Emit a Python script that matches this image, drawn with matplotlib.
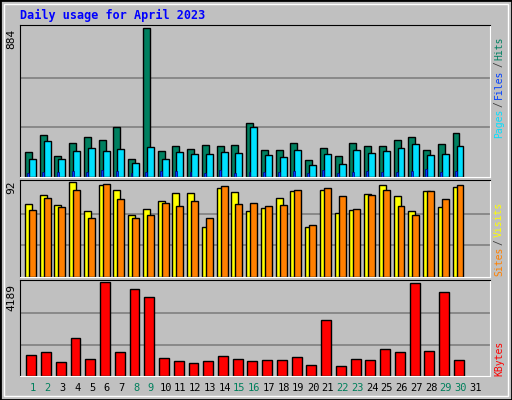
import numpy as np
import matplotlib.pyplot as plt
from matplotlib.patches import Rectangle

days = np.arange(1, 31)
hits = [146, 248, 122, 200, 236, 218, 296, 104, 884, 152, 182, 164, 188, 182, 188,
        320, 158, 158, 200, 98, 170, 122, 200, 182, 182, 218, 236, 158, 194, 260]
files = [104, 212, 104, 152, 170, 152, 164, 86, 176, 104, 146, 134, 134, 146, 140,
         296, 128, 116, 158, 74, 134, 80, 158, 140, 152, 170, 194, 128, 134, 182]
pages = [26, 32, 32, 38, 32, 44, 38, 26, 32, 38, 38, 32, 26, 44, 26,
         32, 32, 32, 38, 26, 44, 26, 32, 38, 32, 32, 38, 50, 32, 38]
visits = [71, 79, 70, 92, 64, 89, 84, 60, 66, 74, 81, 81, 48, 86, 82,
          64, 67, 76, 83, 48, 84, 62, 65, 80, 89, 78, 64, 83, 68, 87]
sites = [65, 76, 68, 84, 57, 90, 75, 57, 60, 72, 69, 74, 57, 88, 71,
         72, 69, 70, 84, 50, 86, 78, 66, 79, 84, 69, 60, 83, 75, 89]
kbytes = [933, 1070, 612, 1712, 749, 4189, 1070, 3868, 3501, 795, 657, 566, 657, 887, 749,
          657, 703, 703, 841, 474, 2492, 428, 749, 703, 1208, 1070, 4143, 1116, 3731, 703]
weekend = [1, 2, 8, 9, 15, 16, 22, 23, 29, 30]

W, H = 512, 400
BG = '#C0C0C0'
fig = plt.figure(figsize=(W / 100, H / 100), dpi=100, facecolor=BG)
fig.patches.append(Rectangle((0, 0), 1, 1, transform=fig.transFigure, fill=False,
                             edgecolor='black', linewidth=2))
fig.patches.append(Rectangle((4 / W, 4 / H), 1 - 8 / W, 1 - 8 / H, transform=fig.transFigure,
                             fill=False, edgecolor='white', linewidth=1))

def panel(top, bottom, ymax):
    ax = fig.add_axes([20 / W, 1 - bottom / H, 470 / W, (bottom - top) / H])
    ax.set_facecolor(BG)
    ax.set_xlim(0.12, 32.0)
    ax.set_ylim(0, ymax * 1.02)
    for y in (ymax / 3, 2 * ymax / 3):
        ax.axhline(y, color='#808080', linewidth=1.2, zorder=0)
    ax.set_xticks([])
    ax.set_yticks([])
    for s in ax.spines.values():
        s.set_color('black')
    ax.spines['right'].set_color('white')
    ax.spines['bottom'].set_color('white')
    return ax

mono = 'DejaVu Sans Mono'
kw = dict(align='edge', edgecolor='black', linewidth=1)

ax1 = panel(25, 177, 884)
ax1.bar(days - 0.54, hits, 0.47, color='#008060', **kw)
ax1.bar(days - 0.27, files, 0.47, color='#00E0FF', **kw)
ax1.bar(days - 0.38, pages, 0.13, color='#0040FF', edgecolor='#000080', linewidth=0.5, align='edge')

ax2 = panel(180, 277, 92)
ax2.bar(days - 0.54, visits, 0.47, color='#FFFF00', **kw)
ax2.bar(days - 0.27, sites, 0.47, color='#FF8000', **kw)

ax3 = panel(280, 376, 4189)
ax3.bar(days - 0.45, kbytes, 0.67, color='#FF0000', **kw)

for d in range(1, 32):
    ax3.text(d, -0.07, str(d), transform=ax3.get_xaxis_transform(), ha='center', va='top',
             fontsize=7.5, color='#00805C' if d in weekend else 'black', family=mono)

fig.text(20 / W, 1 - 15 / H, 'Daily usage for April 2023', color='#0000FF', fontsize=8.5,
         fontweight='bold', family=mono, va='center')
for y, t in ((29, '884'), (181, '92'), (284, '4189')):
    fig.text(16 / W, 1 - y / H, t, rotation=90, ha='right', va='top', fontsize=8, family=mono)

renderer = fig.canvas.get_renderer()

def right_label(y0, parts):
    y = y0
    for t, c in parts:
        txt = fig.text(499 / W, 1 - y / H, t, rotation=90, ha='center', va='bottom',
                       fontsize=7, family=mono, color=c)
        y -= txt.get_window_extent(renderer).height + 2

right_label(138, [('Pages', '#00E0FF'), ('/', '#404040'), ('Files', '#0040FF'),
                  ('/', '#404040'), ('Hits', '#008060')])
right_label(276, [('Sites', '#FF8000'), ('/', '#404040'), ('Visits', '#FFFF00')])
right_label(376, [('KBytes', '#FF0000')])

fig.savefig('out.png', dpi=100, facecolor=BG)
